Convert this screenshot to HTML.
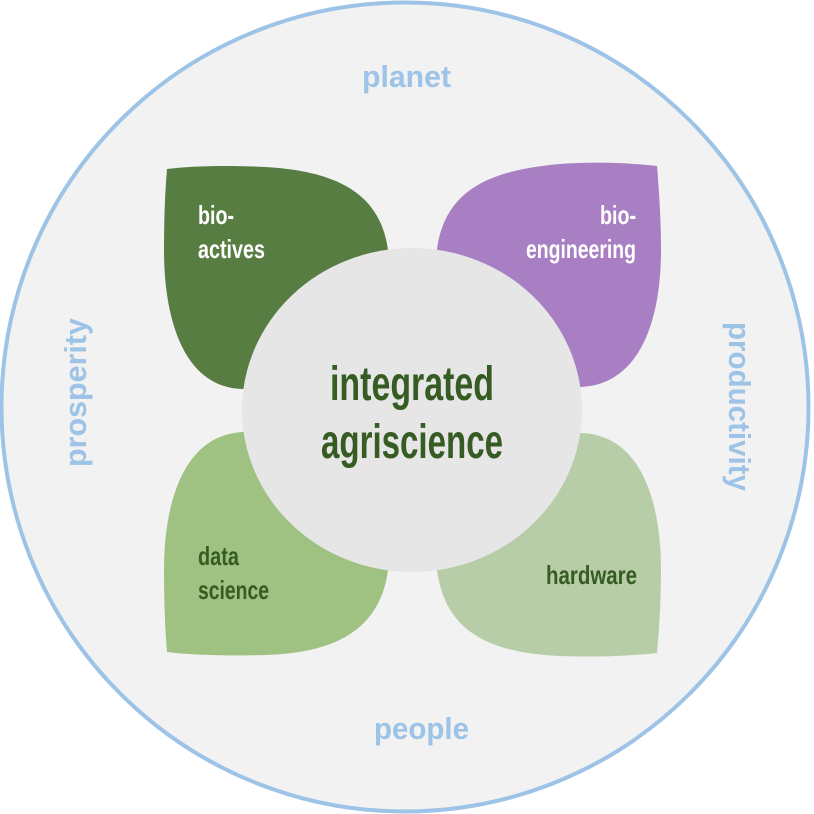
<!DOCTYPE html>
<html>
<head>
<meta charset="utf-8">
<style>
html,body{margin:0;padding:0;background:#fff;width:814px;height:814px;overflow:hidden}
svg{display:block}
text{font-family:"Liberation Sans Narrow","Liberation Sans",sans-serif;font-weight:700}
</style>
</head>
<body>
<svg width="814" height="814" viewBox="0 0 814 814" xmlns="http://www.w3.org/2000/svg">
<ellipse cx="405" cy="407" rx="403.5" ry="404.5" fill="#f2f2f2" stroke="#9dc3e6" stroke-width="4"/>
<path d="M167,169 C190,166 225,165 265,167 C335,171 380,192 388,250 L388,320 L243,389 C185,388 164,322 164,250 C164,220 165,192 167,169Z" fill="#587d42"/>
<path d="M657,166 C620,162 590,162 560,164 C490,170 445,190 437,249 L437,320 L580,387 C640,385 661,320 661,250 C661,220 659,190 657,166Z" fill="#a97fc4"/>
<path d="M167,652 C190,655 225,656 265,655 C335,653 380,630 388,570 L388,500 L245,432 C185,433 164,500 164,570 C164,600 165,628 167,652Z" fill="#9fc282"/>
<path d="M657,653 C620,657 590,657 560,656 C490,653 445,632 437,570 L437,500 L580,433 C640,434 661,500 661,570 C661,600 659,630 657,653Z" fill="#b6cda8"/>
<ellipse cx="412" cy="410" rx="170" ry="162" fill="#e6e6e6"/>
<g font-size="48" fill="#375c23">
<text x="330" y="400" textLength="164" lengthAdjust="spacingAndGlyphs">integrated</text>
<text x="321" y="458" textLength="182" lengthAdjust="spacingAndGlyphs">agriscience</text>
</g>
<g font-size="26" fill="#ffffff">
<text x="198" y="224" textLength="36" lengthAdjust="spacingAndGlyphs">bio-</text>
<text x="198" y="258" textLength="67" lengthAdjust="spacingAndGlyphs">actives</text>
<text x="600" y="224" textLength="36" lengthAdjust="spacingAndGlyphs">bio-</text>
<text x="526" y="258" textLength="110" lengthAdjust="spacingAndGlyphs">engineering</text>
</g>
<g font-size="26" fill="#375c23">
<text x="198" y="565" textLength="41" lengthAdjust="spacingAndGlyphs">data</text>
<text x="198" y="599" textLength="71" lengthAdjust="spacingAndGlyphs">science</text>
<text x="546" y="584" textLength="91" lengthAdjust="spacingAndGlyphs">hardware</text>
</g>
<g font-size="31" fill="#9dc3e6">
<text x="362" y="87" textLength="89" lengthAdjust="spacingAndGlyphs">planet</text>
<text x="374" y="739" textLength="95" lengthAdjust="spacingAndGlyphs">people</text>
<text transform="translate(86,467) rotate(-90)" textLength="149" lengthAdjust="spacingAndGlyphs">prosperity</text>
<text transform="translate(729,322) rotate(90)" textLength="169" lengthAdjust="spacingAndGlyphs">productivity</text>
</g>
</svg>
</body>
</html>
